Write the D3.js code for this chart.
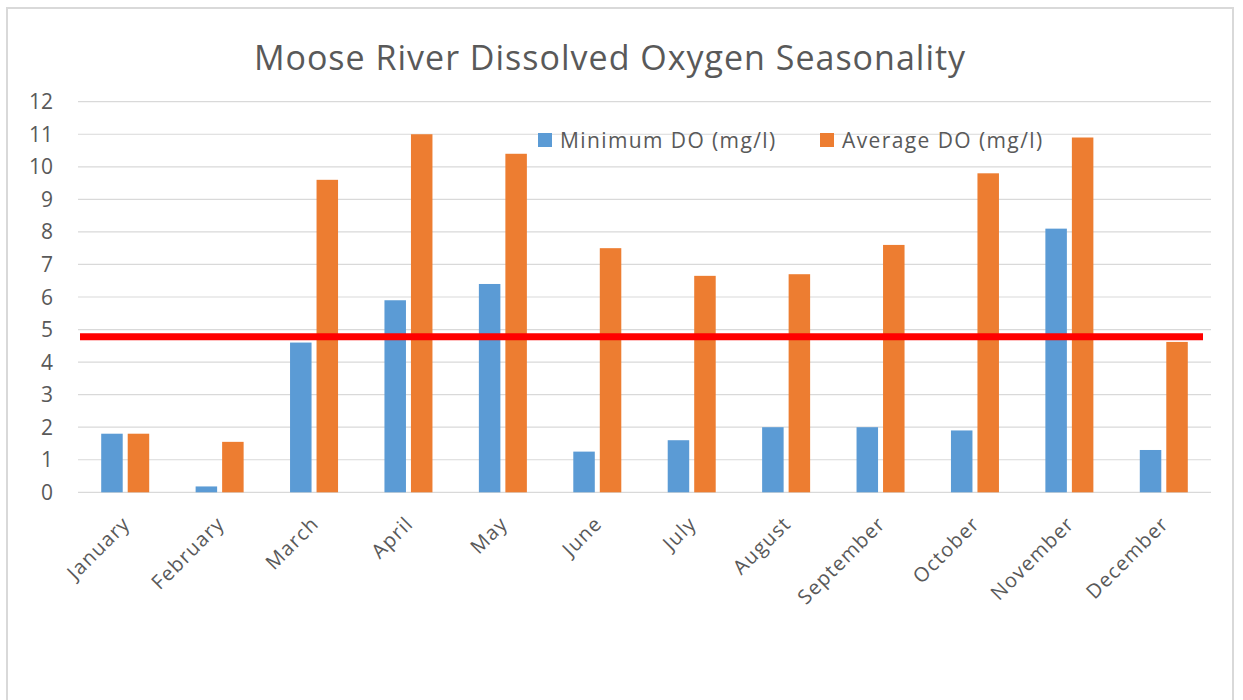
<!DOCTYPE html>
<html>
<head>
<meta charset="utf-8">
<script src="https://d3js.org/d3.v7.min.js"></script>
<style>
  body { margin: 0; background: #fff; }
</style>
</head>
<body>
<svg width="1243" height="700" font-family="'Open Sans', sans-serif"></svg>

<script>
// values
var months = ["January", "February", "March", "April", "May", "June",
              "July", "August", "September", "October", "November", "December"];
var minDO = [1.8, 0.18, 4.6, 5.9, 6.4, 1.25, 1.6, 2.0, 2.0, 1.9, 8.1, 1.3];
var avgDO = [1.8, 1.55, 9.6, 11.0, 10.4, 7.5, 6.65, 6.7, 7.6, 9.8, 10.9, 4.62];
var seriesNames = ["Minimum DO (mg/l)", "Average DO (mg/l)"];
var seriesColors = ["#5b9bd5", "#ed7d31"];
var threshold = 4.78;
var yTicks = [0, 1, 2, 3, 4, 5, 6, 7, 8, 9, 10, 11, 12];

var svg = d3.select("svg");

// chart frame
svg.append("rect")
    .attr("x", 7).attr("y", 8)
    .attr("width", 1226).attr("height", 720)
    .attr("fill", "#fff")
    .attr("stroke", "#d9d9d9")
    .attr("stroke-width", 2);

var plotLeft = 78, plotRight = 1211, plotTop = 101.7, plotBottom = 492.3;

var x = d3.scaleBand()
    .domain(months)
    .range([plotLeft, plotRight]);

var y = d3.scaleLinear()
    .domain([0, 12])
    .range([plotBottom, plotTop]);

var barW = 21.5, barGap = 5;

// gridlines
svg.append("g")
  .selectAll("line")
  .data(yTicks)
  .enter().append("line")
    .attr("x1", plotLeft).attr("x2", plotRight)
    .attr("y1", function(d) { return y(d); })
    .attr("y2", function(d) { return y(d); })
    .attr("stroke", "#d9d9d9")
    .attr("stroke-width", 1.2);

// y tick labels
svg.append("g")
  .selectAll("text")
  .data(yTicks)
  .enter().append("text")
    .attr("x", 53)
    .attr("y", function(d) { return y(d) + 7.5; })
    .attr("text-anchor", "end")
    .attr("font-size", 21)
    .attr("fill", "#595959")
    .text(function(d) { return d; });

// bars
var groups = svg.append("g")
  .selectAll("g")
  .data(months)
  .enter().append("g")
    .attr("transform", function(d) { return "translate(" + (x(d) + x.bandwidth() / 2) + ",0)"; });

groups.append("rect")
    .attr("x", -barW - barGap / 2)
    .attr("width", barW)
    .attr("y", function(d, i) { return y(minDO[i]); })
    .attr("height", function(d, i) { return plotBottom - y(minDO[i]); })
    .attr("fill", seriesColors[0]);

groups.append("rect")
    .attr("x", barGap / 2)
    .attr("width", barW)
    .attr("y", function(d, i) { return y(avgDO[i]); })
    .attr("height", function(d, i) { return plotBottom - y(avgDO[i]); })
    .attr("fill", seriesColors[1]);

// x labels
groups.append("text")
    .attr("text-anchor", "end")
    .attr("font-size", 20)
    .attr("letter-spacing", 1.2)
    .attr("fill", "#595959")
    .attr("transform", "translate(6,525) rotate(-45)")
    .text(function(d) { return d; });

// threshold line
svg.append("line")
    .attr("x1", 80).attr("x2", 1203)
    .attr("y1", y(threshold)).attr("y2", y(threshold))
    .attr("stroke", "#ff0000")
    .attr("stroke-width", 7);

// title
svg.append("text")
    .attr("x", 610).attr("y", 70)
    .attr("text-anchor", "middle")
    .attr("font-size", 34)
    .attr("letter-spacing", 1)
    .attr("fill", "#595959")
    .text("Moose River Dissolved Oxygen Seasonality");

// legend
var legendX = [538, 820];
var legend = svg.append("g")
  .selectAll("g")
  .data(seriesNames)
  .enter().append("g")
    .attr("transform", function(d, i) { return "translate(" + legendX[i] + ",140)"; });

legend.append("rect")
    .attr("x", 0).attr("y", -7)
    .attr("width", 14).attr("height", 14)
    .attr("fill", function(d, i) { return seriesColors[i]; });

legend.append("text")
    .attr("x", 22).attr("y", 7.5)
    .attr("font-size", 21)
    .attr("letter-spacing", 1.4)
    .attr("fill", "#595959")
    .text(function(d) { return d; });
</script>
</body>
</html>
